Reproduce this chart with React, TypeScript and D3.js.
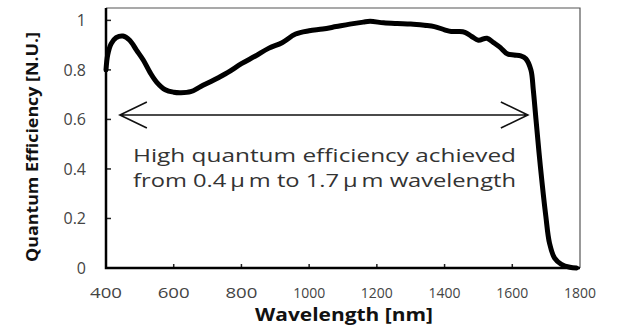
import React, { useRef, useEffect } from 'react';
import * as d3 from 'd3';

const wavelength = [400, 405, 415, 430, 450, 470, 490, 510, 530, 550, 575, 600, 620, 650, 680, 720, 760, 800, 840, 880, 920, 960, 1000, 1040, 1080, 1120, 1160, 1180, 1220, 1260, 1300, 1340, 1370, 1400, 1420, 1440, 1460, 1480, 1500, 1525, 1545, 1565, 1585, 1605, 1625, 1640, 1655, 1662, 1670, 1683, 1699, 1710, 1725, 1745, 1770, 1790];
const efficiency = [0.80, 0.86, 0.905, 0.93, 0.937, 0.92, 0.88, 0.84, 0.79, 0.75, 0.72, 0.71, 0.708, 0.712, 0.733, 0.76, 0.79, 0.825, 0.855, 0.887, 0.91, 0.945, 0.958, 0.965, 0.975, 0.985, 0.993, 0.996, 0.99, 0.987, 0.985, 0.98, 0.975, 0.962, 0.955, 0.955, 0.952, 0.935, 0.92, 0.928, 0.91, 0.89, 0.865, 0.86, 0.857, 0.845, 0.80, 0.72, 0.60, 0.41, 0.21, 0.10, 0.04, 0.015, 0.003, 0];

const xTicks = [400, 600, 800, 1000, 1200, 1400, 1600, 1800];
const yTicks = [0, 0.2, 0.4, 0.6, 0.8, 1];
const yTickLabels = ['0', '0.2', '0.4', '0.6', '0.8', '1'];

// arrow span (wavelength) and height (efficiency)
const arrowRange = [441, 1646];
const arrowLevel = 0.618;
const noteLines = ['High quantum efficiency achieved', 'from 0.4\u2009\u03bc\u2009m to 1.7\u2009\u03bc\u2009m wavelength'];

const W = 618, H = 330;
const font = '"Open Sans", "DejaVu Sans", sans-serif';

const App = () => {
    const ref = useRef(null);

    useEffect(() => {
        const svg = d3.select(ref.current);
        svg.selectAll('*').remove();

        const left = 106, right = 580, top = 8, bottom = 268;
        const x = d3.scaleLinear().domain([400, 1800]).range([left, right]);
        const y = d3.scaleLinear().domain([0, 1.05]).range([bottom, top]);

        svg.append('rect').attr('width', W).attr('height', H).attr('fill', 'white');

        // thin frame top/right
        svg.append('path')
            .attr('d', `M${left},${top} H${right} V${bottom}`)
            .attr('fill', 'none').attr('stroke', '#555').attr('stroke-width', 1.2);

        // ticks
        svg.selectAll('line.xt').data(xTicks.slice(1, -1)).enter().append('line')
            .attr('x1', d => x(d)).attr('x2', d => x(d))
            .attr('y1', bottom).attr('y2', bottom - 4)
            .attr('stroke', '#222').attr('stroke-width', 1.5);
        svg.selectAll('line.yt').data(yTicks.slice(1)).enter().append('line')
            .attr('x1', left).attr('x2', left + 5)
            .attr('y1', d => y(d)).attr('y2', d => y(d))
            .attr('stroke', '#222').attr('stroke-width', 1.5);

        // main axes
        svg.append('path')
            .attr('d', `M${left},${top} V${bottom} H${right}`)
            .attr('fill', 'none').attr('stroke', '#000').attr('stroke-width', 2.5);

        // tick labels
        svg.selectAll('text.xl').data(xTicks).enter().append('text')
            .attr('x', d => x(d)).attr('y', 298)
            .attr('text-anchor', 'middle')
            .attr('font-family', font).attr('font-size', 15).attr('fill', '#444')
            .attr('textLength', 32).attr('lengthAdjust', 'spacingAndGlyphs')
            .text(d => d);
        svg.selectAll('text.yl').data(yTicks).enter().append('text')
            .attr('x', 86).attr('y', d => y(d) + 6)
            .attr('text-anchor', 'end')
            .attr('font-family', font).attr('font-size', 16).attr('fill', '#444')
            .text((d, i) => yTickLabels[i]);

        // axis titles
        svg.append('text')
            .attr('x', 344).attr('y', 321)
            .attr('text-anchor', 'middle')
            .attr('font-family', font).attr('font-size', 17).attr('font-weight', 'bold').attr('fill', '#111')
            .attr('textLength', 178).attr('lengthAdjust', 'spacingAndGlyphs')
            .text('Wavelength [nm]');
        svg.append('text')
            .attr('transform', 'translate(38,147) rotate(-90)')
            .attr('text-anchor', 'middle')
            .attr('font-family', font).attr('font-size', 16).attr('font-weight', 'bold').attr('fill', '#111')
            .attr('textLength', 230).attr('lengthAdjust', 'spacingAndGlyphs')
            .text('Quantum Efficiency [N.U.]');

        // curve
        const pts = wavelength.map((w, i) => [w, efficiency[i]]);
        const line = d3.line().x(d => x(d[0])).y(d => y(d[1])).curve(d3.curveCatmullRom.alpha(0.5));
        svg.append('path')
            .attr('d', line(pts))
            .attr('fill', 'none').attr('stroke', '#000').attr('stroke-width', 5)
            .attr('stroke-linejoin', 'round').attr('stroke-linecap', 'round');

        // double arrow
        const ax1 = x(arrowRange[0]), ax2 = x(arrowRange[1]), ay = y(arrowLevel);
        svg.append('path')
            .attr('d', `M${ax1},${ay} H${ax2} M${ax1 + 27},${ay - 13} L${ax1},${ay} L${ax1 + 27},${ay + 13} M${ax2 - 27},${ay - 13} L${ax2},${ay} L${ax2 - 27},${ay + 13}`)
            .attr('fill', 'none').attr('stroke', '#111').attr('stroke-width', 1.6);

        // note
        svg.selectAll('text.note').data(noteLines).enter().append('text')
            .attr('x', 133).attr('y', (d, i) => 162 + i * 25)
            .attr('font-family', font).attr('font-size', 18).attr('fill', '#333')
            .attr('textLength', 383).attr('lengthAdjust', 'spacingAndGlyphs')
            .text(d => d);
    }, []);

    return (
        <svg ref={ref} width={W} height={H} style={{ position: 'absolute', left: 0, top: 0 }} />
    );
};

export default App;
